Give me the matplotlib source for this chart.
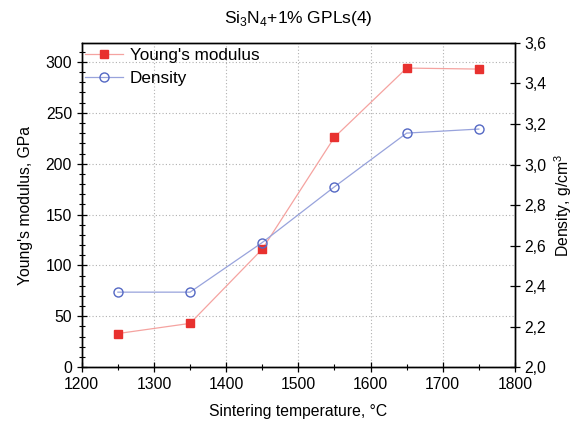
import matplotlib
matplotlib.use("Agg")
import matplotlib.pyplot as plt
from matplotlib.ticker import MultipleLocator, FuncFormatter

plt.rcParams["font.family"] = ["Liberation Sans", "DejaVu Sans"]
plt.rcParams["font.size"] = 11.3
plt.rcParams["mathtext.fontset"] = "custom"
plt.rcParams["mathtext.rm"] = "Liberation Sans"

temperature = [1250, 1350, 1450, 1550, 1650, 1750]
youngs_modulus = [33, 43, 116, 226, 294, 293]
density = [2.37, 2.37, 2.615, 2.89, 3.155, 3.175]

red = "#e8312f"
blue = "#5468c4"

fig = plt.figure(figsize=(5.76, 4.21), dpi=100)
ax = fig.add_axes([0.142, 0.128, 0.752, 0.77])
ax2 = ax.twinx()

l1, = ax.plot(temperature, youngs_modulus, color="#f5a3a0", lw=0.9,
              marker="s", ms=6, mfc=red, mec=red, label="Young's modulus")
l2, = ax2.plot(temperature, density, color="#98a3dc", lw=0.9,
               marker="o", ms=6.5, mfc="none", mec=blue, mew=1.0, label="Density")

ax.set_xlim(1200, 1800)
ax.set_ylim(0, 318.7)
ax2.set_ylim(2.0, 3.6)

ax.xaxis.set_major_locator(MultipleLocator(100))
ax.xaxis.set_minor_locator(MultipleLocator(50))
ax.yaxis.set_major_locator(MultipleLocator(50))
ax.yaxis.set_minor_locator(MultipleLocator(10))
ax2.yaxis.set_major_locator(MultipleLocator(0.2))
ax2.yaxis.set_major_formatter(FuncFormatter(lambda v, p: f"{v:.1f}".replace(".", ",")))

ax.grid(True, which="major", linestyle=(0, (1, 2)), color="#b0b0b0", lw=0.8)

ax.tick_params(which="major", direction="inout", length=7, width=0.9)
ax.tick_params(which="minor", direction="inout", length=4, width=0.8)
ax2.tick_params(which="major", direction="inout", length=7, width=0.9)
for a in (ax, ax2):
    for s in a.spines.values():
        s.set_linewidth(1.0)

ax.set_xlabel("Sintering temperature, °C", labelpad=9)
ax.set_ylabel("Young's modulus, GPa", labelpad=9)
ax2.set_ylabel("Density, g/cm$^3$", labelpad=4)
ax.set_title("Si$_3$N$_4$+1% GPLs(4)", fontsize=12.5, pad=14)

ax.legend([l1, l2], ["Young's modulus", "Density"], loc="upper left",
          frameon=False, bbox_to_anchor=(-0.02, 1.02), handlelength=2.2,
          borderaxespad=0.3, labelspacing=0.45, handletextpad=0.4, fontsize=12.3)

fig.savefig("out.png", dpi=100)
